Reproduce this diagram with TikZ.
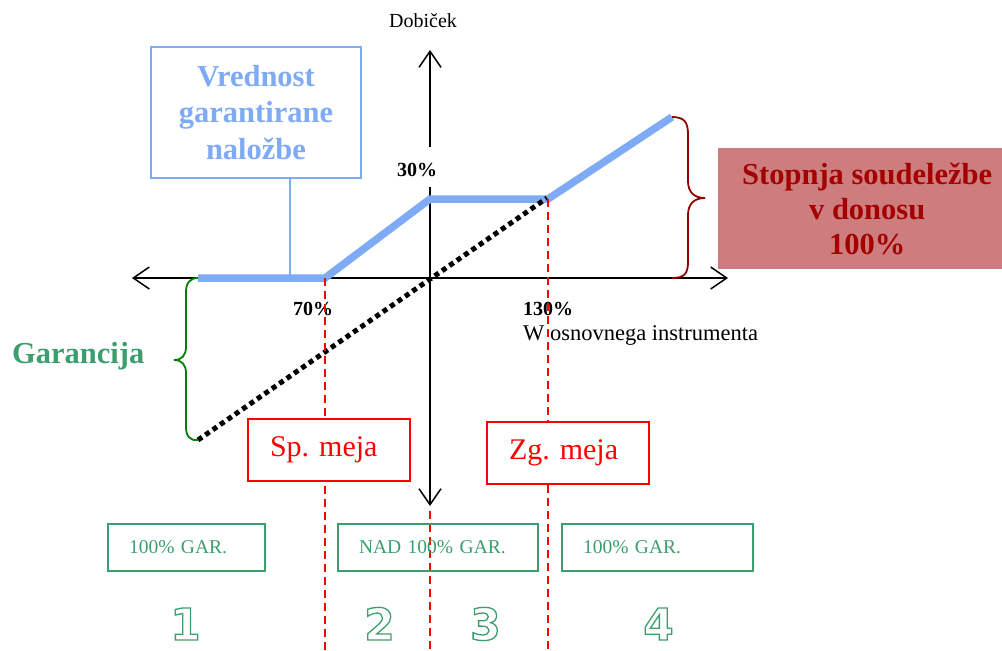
\documentclass[tikz,border=0pt]{standalone}
\usepackage{fontspec}
\setmainfont{Liberation Serif}
\newfontfamily\digitfont{DejaVu Sans}
\usetikzlibrary{arrows.meta}
\definecolor{payblue}{RGB}{127,170,245}
\definecolor{gargreen}{RGB}{60,158,108}
\definecolor{bracegreen}{RGB}{0,128,0}
\definecolor{bracered}{RGB}{145,0,0}
\definecolor{textred}{RGB}{165,0,0}
\definecolor{boxrose}{RGB}{205,125,125}
\newcommand{\outlinedtext}[1]{\special{pdf:literal direct 1 Tr 1.3 w}#1\special{pdf:literal direct 0 Tr}}
\frenchspacing
\begin{document}
\begin{tikzpicture}[x=1pt,y=-1pt,
  axis/.style={line width=1.5pt,{Straight Barb[length=16pt,width=22pt]}-{Straight Barb[length=16pt,width=22pt]}},
  payoff/.style={payblue,line width=7.5pt},
  dotline/.style={line width=5pt,dash pattern=on 5pt off 4pt},
  limitline/.style={red,line width=1.8pt,dash pattern=on 8pt off 5pt},
  pct/.style={font=\fontsize{20}{24}\selectfont\bfseries,inner sep=0pt},
  plain/.style={font=\fontsize{20}{24}\selectfont,inner sep=0pt},
  bluebox/.style={draw=payblue,line width=2pt,fill=white,text=payblue,
    font=\fontsize{30.5}{36.5}\selectfont\bfseries,align=center,
    minimum width=210pt,minimum height=131pt,inner sep=0pt},
  rosebox/.style={fill=boxrose,text=textred,
    font=\fontsize{30.5}{35}\selectfont\bfseries,align=center,
    minimum width=298pt,minimum height=121pt,inner sep=0pt},
  limbox/.style={draw=red,line width=2pt,fill=white,text=red,
    font=\fontsize{30}{36}\selectfont,align=left,text width=118pt,
    inner xsep=22pt,inner ysep=0pt,minimum height=62pt},
  garbox/.style={draw=gargreen,line width=2pt,text=gargreen,
    font=\fontsize{19.5}{23}\selectfont,align=left,
    inner xsep=21pt,inner ysep=0pt,minimum height=47pt},
  digit/.style={font=\digitfont\fontsize{44}{48}\selectfont\bfseries,anchor=base,inner sep=0pt,text=gargreen},
  bracestyle/.style={line width=1.8pt},
]
\useasboundingbox (0,0) rectangle (1002,651);

% key coordinates
\coordinate (xl) at (132,278);
\coordinate (xr) at (728,278);
\coordinate (yt) at (430,50);
\coordinate (yb) at (430,506);
\coordinate (p0) at (198,278);
\coordinate (p70) at (325,278);
\coordinate (p30) at (430,199);
\coordinate (p130) at (548,199);
\coordinate (pend) at (672,117);
\coordinate (dstart) at (198,440);
\coordinate (dend) at (547,198);
\coordinate (conn) at (290,278);

% axes
\draw[axis] (xl) -- (xr);
\draw[axis] (yb) -- (yt);
\node[pct,fill=white,inner xsep=3pt,inner ysep=5pt,text height=24pt,text depth=6pt,anchor=base] (l30) at (417,176) {30\%};

% guaranteed value box and its connector
\node[bluebox] (vbox) at (256,112.5) {Vrednost\\garantirane\\naložbe};
\draw[payblue,line width=2pt] (vbox.south -| conn) -- (conn);

% payoff line
\draw[payoff] (p0) -- (p70) -- (p30) -- (p130) -- (pend);
% underlying line
\draw[dotline] (dstart) -- (dend);

% labels on the axes
\node[plain,anchor=base west] (dob) at (389,27) {Dobiček};
\node[pct,anchor=base west] (l70) at (293,315) {70\%};
\node[pct,anchor=base west] (l130) at (523,315) {130\%};
\node[font=\fontsize{22.5}{26}\selectfont,inner sep=0pt,anchor=base west] (wlab) at (523,340) {W osnovnega instrumenta};

% limit lines
\coordinate (b70) at (325,651);
\coordinate (b130) at (548,651);
\coordinate (bmid) at (430,651);
\coordinate (tmid) at (430,511);
\draw[limitline] (p70) -- (b70);
\draw[limitline] (p130) -- (b130);
\draw[limitline] (tmid) -- (bmid);

% limit boxes
\node[limbox,anchor=north west] (sp) at (247,418) {Sp. meja};
\node[limbox,anchor=north west] (zg) at (486,421) {Zg. meja};

% participation box and brace
\node[rosebox,anchor=north west] (rose) at (718,148) {Stopnja soudeležbe\\v donosu\\100\%};
\draw[bracestyle,bracered] (pend) .. controls (684,117) and (688,122) .. (688,134)
  -- (688,181) .. controls (688,192) and (694,198) .. (705,198)
  .. controls (694,198) and (688,204) .. (688,215)
  -- (688,262) .. controls (688,274) and (684,278) .. (672,278);

% guarantee brace and label
\draw[bracestyle,bracegreen] (p0) .. controls (190,278) and (186,283) .. (186,292)
  -- (186,347) .. controls (186,355) and (182,360) .. (174,360)
  .. controls (182,360) and (186,365) .. (186,373)
  -- (186,427) .. controls (186,436) and (190,441) .. (dstart);
\node[font=\fontsize{30.5}{36}\selectfont\bfseries,text=gargreen,inner sep=0pt,anchor=base west] (gar) at (12,363) {Garancija};

% zone boxes
\node[garbox,anchor=north west,text width=115pt] (g1) at (107,523) {100\% GAR.};
\node[garbox,anchor=north west,text width=158pt] (g2) at (337,523) {NAD 100\% GAR.};
\node[garbox,anchor=north west,text width=149pt] (g3) at (561,523) {100\% GAR.};

% zone numbers (outlined)
\node[digit] (d1) at (185.5,640) {\outlinedtext{1}};
\node[digit] (d2) at (379.5,640) {\outlinedtext{2}};
\node[digit] (d3) at (485.5,640) {\outlinedtext{3}};
\node[digit] (d4) at (658.5,640) {\outlinedtext{4}};
\end{tikzpicture}
\end{document}
